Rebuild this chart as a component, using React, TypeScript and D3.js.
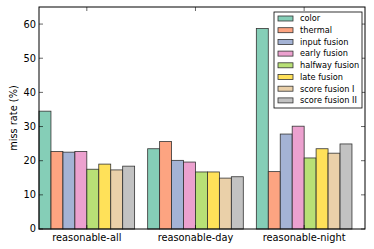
import React from 'react'
import * as d3 from 'd3'

const groups = ['reasonable-all', 'reasonable-day', 'reasonable-night']
const methods = [
  'color',
  'thermal',
  'input fusion',
  'early fusion',
  'halfway fusion',
  'late fusion',
  'score fusion I',
  'score fusion II'
]
const colors = ['#66c2a5', '#fc8d62', '#8da0cb', '#e78ac3', '#a6d854', '#ffd92f', '#e5c494', '#b3b3b3']

// miss rate per method, one array per group
const allValues = [34.5, 22.7, 22.5, 22.7, 17.5, 19.0, 17.3, 18.4]
const dayValues = [23.5, 25.6, 20.1, 19.6, 16.7, 16.7, 14.9, 15.3]
const nightValues = [58.7, 16.8, 27.8, 30.1, 20.8, 23.5, 22.2, 24.9]
const values = [allValues, dayValues, nightValues]

const yTicks = [0, 10, 20, 30, 40, 50, 60]

const width = 374
const height = 249
const margin = { left: 39, right: 9, top: 7, bottom: 20 }
const barW = 0.11

const App = () => {
  const x = d3.scaleLinear().domain([0, 3]).range([margin.left, width - margin.right])
  const y = d3.scaleLinear().domain([0, 65]).range([height - margin.bottom, margin.top])
  const font = 'DejaVu Sans, sans-serif'
  const x0 = x(0)
  const x1 = x(3)
  const y0 = y(0)
  const y1 = y(65)

  const legendX = 274
  const legendY = 12
  const rowH = 11.7

  return (
    <div style={{ position: 'absolute', left: 0, top: 0 }}>
      <svg width={width} height={height} style={{ display: 'block' }}>
        <rect x={0} y={0} width={width} height={height} fill="#fff" />
        {values.map((vals, gi) =>
          vals.map((v, mi) => (
            <rect
              key={`${gi}-${mi}`}
              x={x(gi + mi * barW)}
              y={y(v)}
              width={x(barW) - x(0)}
              height={y0 - y(v)}
              fill={colors[mi]}
              fillOpacity={0.8}
              stroke="#333"
              strokeWidth={0.8}
            />
          ))
        )}
        {/* frame */}
        <rect x={x0} y={y1} width={x1 - x0} height={y0 - y1} fill="none" stroke="#000" strokeWidth={1} />
        {/* y ticks */}
        {yTicks.map(t => (
          <g key={t}>
            <line x1={x0} x2={x0 + 4} y1={y(t)} y2={y(t)} stroke="#000" strokeWidth={0.6} />
            <line x1={x1} x2={x1 - 4} y1={y(t)} y2={y(t)} stroke="#000" strokeWidth={0.6} />
            <text x={x0 - 3} y={y(t)} dy="0.35em" textAnchor="end" fontFamily={font} fontSize={9.8}>
              {t}
            </text>
          </g>
        ))}
        {/* x ticks */}
        {groups.map((g, gi) => {
          const cx = x(gi + 0.44)
          return (
            <g key={g}>
              <line x1={cx} x2={cx} y1={y0} y2={y0 - 4} stroke="#000" strokeWidth={0.6} />
              <line x1={cx} x2={cx} y1={y1} y2={y1 + 4} stroke="#000" strokeWidth={0.6} />
              <text x={cx} y={y0 + 12} textAnchor="middle" fontFamily={font} fontSize={9.8}>
                {g}
              </text>
            </g>
          )
        })}
        <text
          transform={`translate(17,${(y0 + y1) / 2}) rotate(-90)`}
          textAnchor="middle"
          fontFamily={font}
          fontSize={9.8}
        >
          miss rate (%)
        </text>
        {/* legend */}
        <rect x={legendX} y={legendY} width={88} height={96} fill="#fff" stroke="#000" strokeWidth={0.8} />
        {methods.map((m, i) => {
          const cy = legendY + 6.5 + i * rowH
          return (
            <g key={m}>
              <rect
                x={legendX + 4}
                y={cy - 2.5}
                width={15}
                height={5}
                fill={colors[i]}
                fillOpacity={0.8}
                stroke="#333"
                strokeWidth={0.8}
              />
              <text x={legendX + 26} y={cy} dy="0.35em" fontFamily={font} fontSize={8.2}>
                {m}
              </text>
            </g>
          )
        })}
      </svg>
    </div>
  )
}

export default App
